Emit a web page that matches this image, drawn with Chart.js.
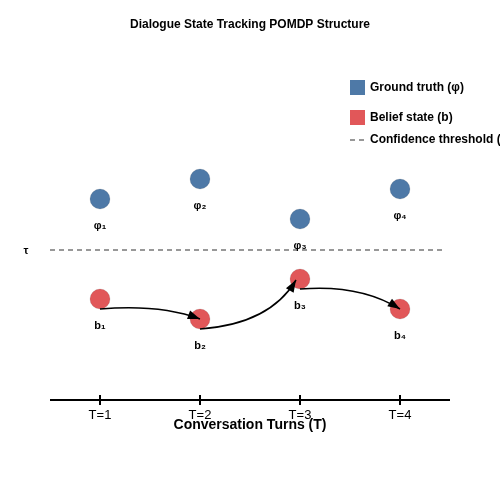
<!DOCTYPE html>
<html>
<head>
<meta charset="UTF-8">
<script src="https://cdn.jsdelivr.net/npm/chart.js"></script>
<style>body{margin:0;background:#fff}#wrap{width:500px;height:500px}</style>
</head>
<body>
<div id="wrap"><canvas id="c"></canvas></div>
<script>
const turns = [1, 2, 3, 4];
const turnLabels = ['T=1', 'T=2', 'T=3', 'T=4'];
const groundTruth = [2.01, 2.21, 1.81, 2.11];
const belief = [1.01, 0.81, 1.21, 0.91];
const gtLabels = ['φ₁', 'φ₂', 'φ₃', 'φ₄'];
const beliefLabels = ['b₁', 'b₂', 'b₃', 'b₄'];
const threshold = 1.5;
const BLUE = '#4e79a7', RED = '#e15759';

const overlay = {
  id: 'overlay',
  afterDatasetsDraw(chart) {
    const ctx = chart.ctx, x = chart.scales.x, y = chart.scales.y;
    ctx.save();
    // threshold
    ctx.strokeStyle = '#777'; ctx.lineWidth = 1.5; ctx.setLineDash([5, 4]);
    ctx.beginPath(); ctx.moveTo(x.getPixelForValue(0.5), y.getPixelForValue(threshold));
    ctx.lineTo(x.getPixelForValue(4.45), y.getPixelForValue(threshold)); ctx.stroke();
    ctx.setLineDash([]);
    ctx.fillStyle = '#000'; ctx.font = 'bold 11px "Liberation Sans"'; ctx.textAlign = 'center'; ctx.textBaseline = 'middle';
    ctx.fillText('τ', 26, y.getPixelForValue(threshold) + 1);
    // point labels
    turns.forEach((t, i) => {
      ctx.fillText(gtLabels[i], x.getPixelForValue(t), y.getPixelForValue(groundTruth[i]) + 27);
      ctx.fillText(beliefLabels[i], x.getPixelForValue(t), y.getPixelForValue(belief[i]) + 27);
    });
    // arrows between belief states
    ctx.strokeStyle = '#000'; ctx.lineWidth = 1.5;
    for (let i = 0; i < turns.length - 1; i++) {
      const x0 = x.getPixelForValue(turns[i]), y0 = y.getPixelForValue(belief[i]) + 10;
      const x1 = x.getPixelForValue(turns[i + 1]), y1 = y.getPixelForValue(belief[i + 1]);
      const up = y1 < y0;
      const ex = up ? x1 - 4 : x1, ey = up ? y1 + 1 : y1;
      const cx = up ? x0 + 70 : x0 + 60, cy = up ? y0 - 5 : y0 - 5;
      ctx.beginPath(); ctx.moveTo(x0, y0); ctx.quadraticCurveTo(cx, cy, ex, ey); ctx.stroke();
      const a = Math.atan2(ey - cy, ex - cx);
      ctx.beginPath(); ctx.moveTo(ex, ey);
      ctx.lineTo(ex - 13 * Math.cos(a - 0.35), ey - 13 * Math.sin(a - 0.35));
      ctx.lineTo(ex - 13 * Math.cos(a + 0.35), ey - 13 * Math.sin(a + 0.35));
      ctx.closePath(); ctx.fill();
    }
    // x axis
    const ay = y.getPixelForValue(0);
    ctx.lineWidth = 2;
    ctx.beginPath(); ctx.moveTo(x.getPixelForValue(0.5), ay); ctx.lineTo(x.getPixelForValue(4.5), ay); ctx.stroke();
    ctx.font = '13px "Liberation Sans"';
    turns.forEach((t, i) => {
      const px = x.getPixelForValue(t);
      ctx.beginPath(); ctx.moveTo(px, ay - 5); ctx.lineTo(px, ay + 5); ctx.stroke();
      ctx.fillText(turnLabels[i], px, ay + 15);
    });
    ctx.font = 'bold 14px "Liberation Sans"';
    ctx.fillText('Conversation Turns (T)', 250, ay + 25);
    // title
    ctx.font = 'bold 12px "Liberation Sans"';
    ctx.fillText('Dialogue State Tracking POMDP Structure', 250, 25);
    // legend
    ctx.textAlign = 'left'; ctx.font = 'bold 12px "Liberation Sans"';
    ctx.fillStyle = BLUE; ctx.fillRect(350, 80, 15, 15);
    ctx.fillStyle = RED; ctx.fillRect(350, 110, 15, 15);
    ctx.fillStyle = '#000';
    ctx.fillText('Ground truth (φ)', 370, 88);
    ctx.fillText('Belief state (b)', 370, 118);
    ctx.fillText('Confidence threshold (τ)', 370, 140);
    ctx.strokeStyle = '#777'; ctx.lineWidth = 1.5; ctx.setLineDash([5, 4]);
    ctx.beginPath(); ctx.moveTo(350, 140); ctx.lineTo(366, 140); ctx.stroke();
    ctx.restore();
  }
};

new Chart(document.getElementById('c'), {
  type: 'scatter',
  data: {
    datasets: [
      { data: turns.map((t, i) => ({ x: t, y: groundTruth[i] })), backgroundColor: BLUE, pointRadius: 10, pointHoverRadius: 10 },
      { data: turns.map((t, i) => ({ x: t, y: belief[i] })), backgroundColor: RED, pointRadius: 10, pointHoverRadius: 10 }
    ]
  },
  options: {
    responsive: true, maintainAspectRatio: false, animation: false,
    layout: { padding: { left: 50, right: 50, top: 50, bottom: 100 } },
    plugins: { legend: { display: false }, tooltip: { enabled: false } },
    scales: {
      x: { type: 'linear', min: 0.5, max: 4.5, display: false },
      y: { min: 0, max: 3.5, display: false }
    }
  },
  plugins: [overlay]
});
</script>
</body>
</html>
